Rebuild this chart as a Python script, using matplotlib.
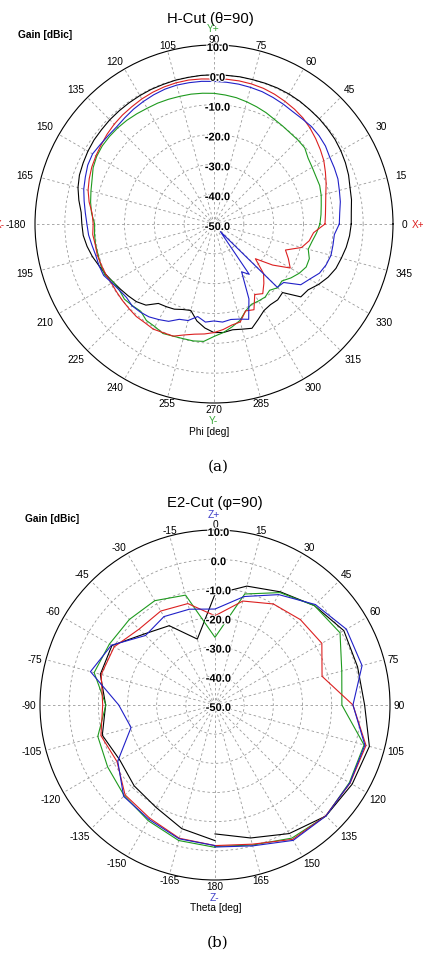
import numpy as np
import matplotlib.pyplot as plt
import matplotlib.patheffects as pe

# H-Cut (theta=90): gain [dBic] vs phi, every 5 deg
phi = list(range(0, 360, 5))
h_black = [-4.0, -3.8, -3.2, -2.8, -2.0, -1.4, -0.9, -0.5, -0.3, -0.1, 0.0, 0.2,
           0.3, 0.3, 0.2, 0.1, 0.1, 0.0, 0.0, 0.0, -0.1, -0.1, -0.2, -0.2,
           -0.3, -0.4, -0.5, -0.6, -0.8, -0.9, -1.2, -1.6, -2.0, -2.8, -4.0, -5.3,
           -5.7, -6.0, -6.8, -7.8, -9.0, -10.0, -11.0, -11.8, -12.5, -13.2, -14.5, -17.5,
           -18.0, -18.5, -19.5, -20.0, -17.0, -15.0, -13.6, -13.5, -14.0, -13.5, -12.8, -14.8,
           -16.5, -17.0, -16.8, -17.5, -12.0, -11.5, -9.5, -7.8, -6.5, -5.8, -5.0, -4.4]
h_red = [-12.8, -12.5, -12.0, -11.2, -10.0, -8.8, -7.5, -6.5, -5.5, -4.5, -3.6, -3.0,
         -2.5, -2.0, -1.6, -1.4, -1.3, -1.3, -1.4, -1.2, -1.0, -1.0, -1.1, -1.3,
         -1.6, -2.0, -2.3, -2.7, -3.2, -3.8, -4.3, -4.8, -5.5, -6.3, -7.5, -9.0,
         -9.5, -9.2, -9.6, -9.5, -9.8, -10.0, -10.3, -10.2, -10.0, -9.8, -9.5, -9.6,
         -9.3, -9.8, -10.0, -11.5, -12.5, -13.0, -13.6, -14.5, -15.6, -16.0, -19.0, -18.3,
         -22.7, -21.5, -24.0, -26.5, -31.9, -26.0, -20.5, -22.5, -24.5, -19.6, -17.6, -16.5]
h_blue = [-8.0, -7.7, -7.0, -6.5, -5.8, -5.5, -5.2, -4.4, -4.0, -3.8, -4.0, -4.0,
          -3.6, -3.2, -2.8, -2.6, -2.4, -2.3, -2.2, -2.0, -1.9, -1.8, -1.9, -2.2,
          -2.6, -3.0, -3.5, -3.9, -3.8, -3.5, -3.0, -3.3, -4.1, -4.8, -5.8, -6.7,
          -7.4, -7.8, -8.5, -9.0, -9.0, -9.2, -10.5, -11.3, -11.7, -11.2, -11.5, -12.0,
          -13.0, -14.0, -16.0, -16.5, -18.5, -17.0, -17.5, -17.0, -17.5, -17.0, -16.0, -22.3,
          -31.5, -29.4, -46.7, -20.0, -19.5, -14.5, -13.0, -11.0, -10.0, -9.4, -9.5, -9.5]
h_green = [-14.5, -14.0, -13.5, -12.8, -12.3, -12.3, -12.0, -11.5, -10.3, -10.2, -10.2, -9.9,
           -9.5, -8.8, -8.2, -7.6, -7.0, -6.6, -6.2, -6.0, -5.8, -5.7, -5.5, -5.3,
           -5.2, -4.9, -4.6, -4.4, -4.3, -4.3, -4.6, -5.3, -6.5, -7.3, -8.0, -8.8,
           -10.0, -9.8, -9.7, -9.8, -9.6, -9.6, -11.0, -11.3, -10.8, -11.3, -11.8, -10.5,
           -10.3, -9.5, -10.0, -10.2, -10.2, -10.5, -12.3, -13.5, -15.0, -16.5, -19.0, -20.3,
           -20.2, -20.1, -21.0, -19.8, -20.3, -18.5, -17.0, -15.9, -16.0, -17.3, -16.6, -15.5]

# E2-Cut (phi=90): gain [dBic] vs theta, every 15 deg
theta = list(range(-180, 181, 15))
e_black = [-3.5, -6.1, -9.5, -10.8, -12.3, -10.0, -12.5, -9.3, -9.2, -15.6, -18.6, -26.6, -12.0,
           -7.8, -5.2, -1.8, 1.0, 0.6, 1.3, 4.8, 4.3, 3.8, 0.9, -2.8, -5.8]
e_red = [-1.8, -2.7, -5.2, -6.4, -11.2, -9.5, -11.5, -9.6, -10.1, -13.2, -12.8, -14.0, -19.4,
         -13.1, -10.0, -8.6, -7.7, -12.0, -2.7, 3.6, 3.5, 3.7, 3.2, -0.6, -1.8]
e_blue = [-1.8, -2.5, -4.7, -5.7, -11.5, -20.2, -17.0, -5.8, -9.0, -16.3, -15.0, -16.0, -17.1,
          -11.5, -6.3, -1.3, 2.0, 2.2, -2.7, 3.2, 3.4, 3.8, 3.6, 0.0, -1.3]
e_green = [-1.2, -1.9, -4.2, -6.0, -7.5, -8.4, -12.6, -7.1, -8.2, -8.5, -8.7, -11.0, -26.8,
           -10.6, -5.5, -1.8, -0.5, -5.0, -6.5, 2.9, 3.2, 3.8, 2.7, -0.3, -1.5]

colors = {'black': '#000000', 'red': '#dc2020', 'blue': '#2020c8', 'green': '#1e9a1e'}
rings = [-40, -30, -20, -10, 0]
ring_labels = ['10.0', '0.0', '-10.0', '-20.0', '-30.0', '-40.0', '-50.0']
ring_vals = [10, 0, -10, -20, -30, -40, -50]

W, H = 423, 954
plt.rcParams['font.family'] = ['Liberation Sans', 'DejaVu Sans']
fig = plt.figure(figsize=(W / 100, H / 100), dpi=100)


def fx(x):
    return x / W


def fy(y):
    return 1 - y / H


def make_polar(cx, cy, R, zero, direction):
    ax = fig.add_axes([fx(cx - R), fy(cy + R), 2 * R / W, 2 * R / H], projection='polar')
    ax.set_theta_zero_location(zero)
    ax.set_theta_direction(direction)
    ax.set_rlim(-50, 10)
    ax.set_rticks(rings)
    ax.set_yticklabels([])
    ax.set_thetagrids(np.arange(0, 360, 15), labels=[''] * 24)
    ax.tick_params(length=0)
    ax.grid(True, color='#9a9a9a', linestyle=(0, (3, 3)), linewidth=0.6)
    ax.spines['polar'].set_color('black')
    ax.spines['polar'].set_linewidth(0.8)
    ax.set_facecolor('none')
    for v, t in zip(ring_vals, ring_labels):
        ax.text(0.51, 0.5 + 0.5 * (v + 50 - 1.0) / 60, t, transform=ax.transAxes,
                ha='center', va='center', fontsize=8, fontweight='bold', zorder=10,
                path_effects=[pe.withStroke(linewidth=1.5, foreground='white')])
    return ax


def angle_labels(ax, angles, texts, screen, R, side_pad):
    px_per_db = R / 60.0
    for a, t in zip(angles, texts):
        s = np.deg2rad(screen(a))
        c, sn = np.cos(s), np.sin(s)
        ha = 'left' if c > 0.3 else ('right' if c < -0.3 else 'center')
        va = 'bottom' if sn > 0.3 else ('top' if sn < -0.3 else 'center')
        pad = 1.0 + side_pad * c * c
        ax.text(np.deg2rad(a), 10 + pad / px_per_db, t, ha=ha, va=va,
                fontsize=7.3, clip_on=False)


# ---- (a) H-Cut ----
ax1 = make_polar(214, 225, 179, 'E', 1)
th1 = np.deg2rad(phi + [360])
for name, vals in [('black', h_black), ('green', h_green), ('red', h_red), ('blue', h_blue)]:
    ax1.plot(th1, vals + [vals[0]], color=colors[name], lw=0.8)
ang1 = list(range(0, 360, 15))
angle_labels(ax1, ang1, ['-180' if a == 180 else str(a) for a in ang1], lambda a: a, 179, 8)

fig.text(fx(210), fy(19), 'H-Cut (\u03b8=90)', ha='center', va='center', fontsize=10.7)
fig.text(fx(45), fy(35), 'Gain [dBic]', ha='center', va='center', fontsize=7.3, fontweight='bold')
fig.text(fx(213), fy(29.5), 'Y+', ha='center', va='center', fontsize=7.3, color='#3aa83a')
fig.text(fx(213), fy(421), 'Y-', ha='center', va='center', fontsize=7.3, color='#3aa83a')
fig.text(fx(418), fy(225), 'X+', ha='center', va='center', fontsize=7.3, color='#dc2020')
fig.text(fx(4.5), fy(225), 'X-', ha='right', va='center', fontsize=7.3, color='#dc2020')
fig.text(fx(209), fy(432), 'Phi [deg]', ha='center', va='center', fontsize=7.3)
fig.text(fx(218), fy(467), '(a)', ha='center', va='center', fontsize=11, family='DejaVu Serif')

# ---- (b) E2-Cut ----
ax2 = make_polar(215, 706, 175, 'N', -1)
th2 = np.deg2rad(theta)
for name, vals in [('black', e_black), ('green', e_green), ('red', e_red), ('blue', e_blue)]:
    ax2.plot(th2, vals, color=colors[name], lw=0.8)
ang2 = list(range(-165, 181, 15))
angle_labels(ax2, ang2, [str(a) for a in ang2], lambda a: 90 - a, 175, 3)

fig.text(fx(215), fy(503), 'E2-Cut (\u03c6=90)', ha='center', va='center', fontsize=10.7)
fig.text(fx(52), fy(519), 'Gain [dBic]', ha='center', va='center', fontsize=7.3, fontweight='bold')
fig.text(fx(214), fy(514.5), 'Z+', ha='center', va='center', fontsize=7.3, color='#4040c8')
fig.text(fx(214), fy(898), 'Z-', ha='center', va='center', fontsize=7.3, color='#4040c8')
fig.text(fx(216), fy(908), 'Theta [deg]', ha='center', va='center', fontsize=7.3)
fig.text(fx(218), fy(943), '(b)', ha='center', va='center', fontsize=11, family='DejaVu Serif')

fig.savefig('out.png', dpi=100)
